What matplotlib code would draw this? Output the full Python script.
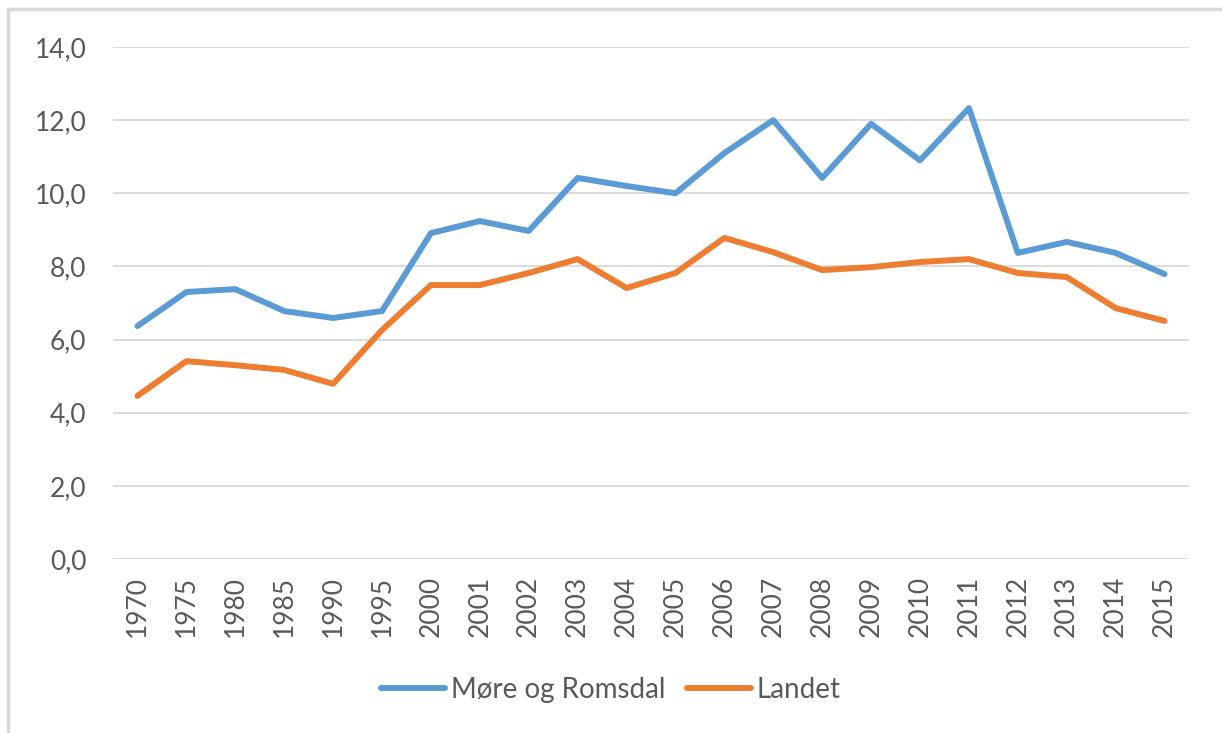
import matplotlib
matplotlib.use("Agg")
import matplotlib.pyplot as plt
from matplotlib.patches import Rectangle

# data
years = ["1970", "1975", "1980", "1985", "1990", "1995", "2000", "2001", "2002", "2003", "2004",
         "2005", "2006", "2007", "2008", "2009", "2010", "2011", "2012", "2013", "2014", "2015"]
more_romsdal = [6.37, 7.30, 7.38, 6.78, 6.59, 6.78, 8.91, 9.24, 8.97, 10.42, 10.2,
                10.0, 11.1, 12.0, 10.42, 11.9, 10.9, 12.33, 8.37, 8.67, 8.37, 7.79]
landet = [4.46, 5.41, 5.30, 5.17, 4.79, 6.26, 7.49, 7.49, 7.82, 8.2, 7.41,
          7.82, 8.78, 8.39, 7.9, 7.98, 8.12, 8.2, 7.82, 7.71, 6.86, 6.51]
yticks = [0, 2, 4, 6, 8, 10, 12, 14]

plt.rcParams['font.family'] = ['Lato', 'DejaVu Sans']
W, H = 1222, 733
fig = plt.figure(figsize=(W / 100, H / 100), dpi=100)

# outer chart frame (only left and top edges visible in the crop)
fig.patches.append(Rectangle((8 / W, -0.1), 1.2, 1 - 9 / H + 0.1, transform=fig.transFigure,
                             fill=False, edgecolor='#d9d9d9', linewidth=2.5))

ax = fig.add_axes([113 / W, 1 - 559 / H, (1189 - 113) / W, (559 - 47) / H])
x = range(len(years))
ax.plot(x, more_romsdal, color='#5b9bd5', linewidth=4.3, label='Møre og Romsdal',
        solid_capstyle='round', solid_joinstyle='round')
ax.plot(x, landet, color='#ed7d31', linewidth=4.3, label='Landet',
        solid_capstyle='round', solid_joinstyle='round')

ax.set_xlim(-0.5, len(years) - 0.5)
ax.set_ylim(0, 14)
ax.set_yticks(yticks)
ax.set_yticklabels([f"{v:.1f}".replace('.', ',') for v in yticks])
ax.set_xticks(list(x))
ax.set_xticklabels(years, rotation=90)
ax.tick_params(axis='both', length=0, labelsize=19, colors='#595959')
ax.tick_params(axis='y', pad=19)
ax.tick_params(axis='x', pad=12)
ax.grid(axis='y', color='#d9d9d9', linewidth=1.3)
ax.set_axisbelow(True)
for s in ax.spines.values():
    s.set_visible(False)

fig.legend(loc='center', bbox_to_anchor=(0.5, 1 - 690 / H), ncol=2, frameon=False,
           fontsize=20, labelcolor='#595959', handlelength=2.3, handletextpad=0.2,
           columnspacing=0.8)

fig.savefig("out.png", dpi=100)
